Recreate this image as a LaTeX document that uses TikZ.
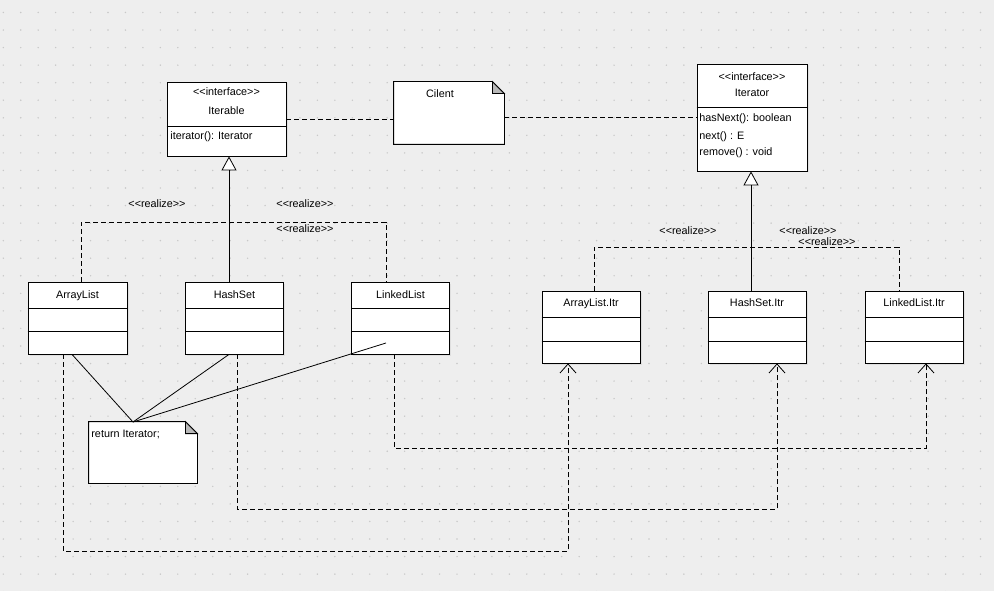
\documentclass[tikz,border=0pt]{standalone}
\usepackage{fontspec}
\setmainfont{Liberation Sans}
\usetikzlibrary{arrows.meta,shadows}
\definecolor{canvas}{HTML}{EEEEEE}
\definecolor{griddot}{HTML}{C8C8C8}
\definecolor{foldgray}{HTML}{B8B8B8}

\begin{document}
\begin{tikzpicture}[x=1pt,y=-1pt,line width=0.8pt,
  font=\fontsize{10.8}{13}\selectfont,
  cls/.style={draw,fill=white,inner sep=0pt,drop shadow={shadow xshift=1.5pt,shadow yshift=-1.5pt,fill=black!18}},
  txt/.style={inner sep=0pt,text height=7.5pt,text depth=2pt},
  member/.style={txt,anchor=west},
  notebg/.style={inner sep=0pt},
  realize/.style={dash pattern=on 5pt off 3pt},
  gen/.style={-{Triangle[length=14pt,width=15pt,fill=white]}},
  dep/.style={dash pattern=on 5pt off 3pt,-{Straight Barb[length=9pt,width=16pt]}}]
\useasboundingbox (0,0) rectangle (994,591);
\fill[canvas] (0,0) rectangle (994,591);
\foreach \i in {0,...,56}
  \foreach \j in {0,...,33}
    \fill[griddot] (3.3+17.45*\i,12.5+17.55*\j) circle (0.8pt);

% interfaces
\draw node[cls,minimum width=119pt,minimum height=74pt] (iterable) at (226.5,119) {};
\draw ([yshift=-45pt]iterable.north west) -- ([yshift=-45pt]iterable.north east);
\node[txt] (iterable-st) at (226.5,93) {<{}<interface>{}>};
\node[txt] (iterable-nm) at (226.5,112) {Iterable};
\node[member] (iterable-m1) at (170,137) {iterator(): Iterator};

\draw node[cls,minimum width=110pt,minimum height=107pt] (iterator) at (752,117.5) {};
\draw ([yshift=-44pt]iterator.north west) -- ([yshift=-44pt]iterator.north east);
\node[txt] (iterator-st) at (752,78) {<{}<interface>{}>};
\node[txt] (iterator-nm) at (752,94) {Iterator};
\node[member] (iterator-m1) at (699,119) {hasNext(): boolean};
\node[member] (iterator-m2) at (699,137) {next() : E};
\node[member] (iterator-m3) at (699,153) {remove() : void};

% client note
\node[notebg,minimum width=110pt,minimum height=62pt] (client) at (449,113) {};
\draw[fill=white] (client.north west) -- ([xshift=-12pt]client.north east) -- ([yshift=-12pt]client.north east) -- (client.south east) -- (client.south west) -- cycle;
\draw[fill=foldgray] ([xshift=-12pt]client.north east) -- ([xshift=-12pt,yshift=-12pt]client.north east) -- ([yshift=-12pt]client.north east) -- cycle;
\node[txt] (client-nm) at (440,95) {Cilent};
\draw[realize] (iterable.east) -- (iterable.east -| client.west);
\draw[realize] (client.east |- iterator.west) -- (iterator.west);

% collections
\draw node[cls,minimum width=99pt,minimum height=72pt] (arraylist) at (77.5,318) {};
\draw node[cls,minimum width=98pt,minimum height=72pt] (hashset) at (234.5,318) {};
\draw node[cls,minimum width=98pt,minimum height=72pt] (linkedlist) at (400.5,318) {};
\foreach \c/\t in {arraylist/ArrayList,hashset/HashSet,linkedlist/LinkedList}{
  \draw ([yshift=-27pt]\c.north west) -- ([yshift=-27pt]\c.north east);
  \draw ([yshift=-50pt]\c.north west) -- ([yshift=-50pt]\c.north east);
  \node[txt] (\c-nm) at ([yshift=-14pt]\c.north) {\t};
}

% iterators
\draw node[cls,minimum width=98pt,minimum height=72pt] (alitr) at (591,327) {};
\draw node[cls,minimum width=98pt,minimum height=72pt] (hsitr) at (757,327) {};
\draw node[cls,minimum width=98pt,minimum height=72pt] (llitr) at (914,327) {};
\foreach \c/\t in {alitr/ArrayList.Itr,hsitr/HashSet.Itr,llitr/LinkedList.Itr}{
  \draw ([yshift=-27pt]\c.north west) -- ([yshift=-27pt]\c.north east);
  \draw ([yshift=-51pt]\c.north west) -- ([yshift=-51pt]\c.north east);
  \node[txt] (\c-nm) at ([yshift=-13pt]\c.north) {\t};
}

% realizations
\coordinate (lleft) at (81,222);
\coordinate (ljoin) at (229,222);
\coordinate (lright) at (386,222);
\draw[gen] (hashset.north -| ljoin) -- (ljoin |- iterable.south);
\draw[realize] (arraylist.north -| lleft) -- (lleft) -- (lright) -- (linkedlist.north -| lright);
\node[txt] (lr1) at (157,205) {<{}<realize>{}>};
\node[txt] (lr2) at (305,205) {<{}<realize>{}>};
\node[txt] (lr3) at (305,230) {<{}<realize>{}>};

\coordinate (rleft) at (594,247);
\coordinate (rjoin) at (751,247);
\coordinate (rright) at (899,247);
\draw[gen] (hsitr.north -| rjoin) -- (rjoin |- iterator.south);
\draw[realize] (alitr.north -| rleft) -- (rleft) -- (rright) -- (llitr.north -| rright);
\node[txt] (rr1) at (688,232) {<{}<realize>{}>};
\node[txt] (rr2) at (808,232) {<{}<realize>{}>};
\node[txt] (rr3) at (827,243) {<{}<realize>{}>};

% return note
\node[notebg,minimum width=108pt,minimum height=61pt] (note) at (143,452.5) {};
\draw[fill=white] (note.north west) -- ([xshift=-12pt]note.north east) -- ([yshift=-12pt]note.north east) -- (note.south east) -- (note.south west) -- cycle;
\draw[fill=foldgray] ([xshift=-12pt]note.north east) -- ([xshift=-12pt,yshift=-12pt]note.north east) -- ([yshift=-12pt]note.north east) -- cycle;
\node[member] (note-tx) at (91,435) {return Iterator;};
\coordinate (napex) at (133,422);
\draw ([xshift=-5.5pt]arraylist.south) -- (napex);
\draw ([xshift=-5.5pt]hashset.south) -- (napex);
\draw ([xshift=-14.5pt,yshift=-25pt]linkedlist.center) -- (napex);

% dependencies
\draw[dep] ([xshift=-14.5pt]arraylist.south) -- ++(0,197) -| ([xshift=-23pt]alitr.south);
\draw[dep] ([xshift=2.5pt]hashset.south) -- ++(0,155) -| ([xshift=20pt]hsitr.south);
\draw[dep] ([xshift=-6.5pt]linkedlist.south) -- ++(0,94) -| ([xshift=12pt]llitr.south);
\end{tikzpicture}
\end{document}
